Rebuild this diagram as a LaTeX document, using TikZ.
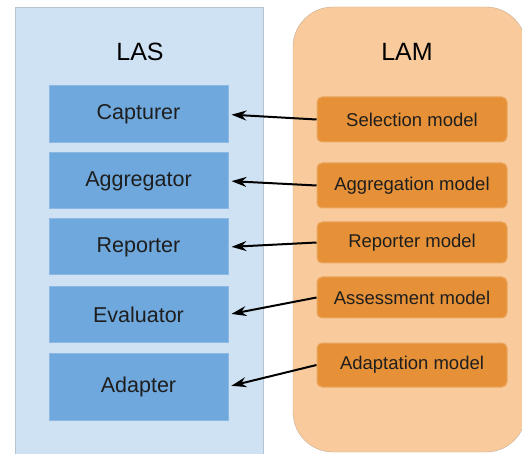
\documentclass[tikz,border=0pt]{standalone}
\usepackage{fontspec}
\setmainfont{Liberation Sans}
\usetikzlibrary{arrows.meta}
\definecolor{lasbg}{HTML}{CFE2F3}
\definecolor{lasbox}{HTML}{6FA8DC}
\definecolor{lambg}{HTML}{F9CB9C}
\definecolor{lambox}{HTML}{E69138}
\definecolor{txt}{HTML}{1E1E1E}
\tikzset{
  sysbox/.style={fill=lasbox, draw=lasbox!80!white, line width=1pt, minimum width=179pt, text=txt, font=\fontsize{21.5pt}{24pt}\selectfont},
  modbox/.style={fill=lambox, draw=lambox!80!white, line width=1pt, rounded corners=5pt, minimum width=190pt, text=txt, font=\fontsize{18.5pt}{21pt}\selectfont},
  feed/.style={-{Stealth[length=15pt,width=10pt]}, line width=2pt, shorten >=3pt},
}
\begin{document}
\begin{tikzpicture}[x=1pt, y=-1pt]
\useasboundingbox (0,0) rectangle (522,454);
%	% Panels
	\fill[white] (0,0) rectangle (522,454);
	\draw[lasbg!70!gray, fill=lasbg] (15,7) rectangle (263,460);
	\draw[lambg!60!gray, fill=lambg, rounded corners=40pt] (293,7) rectangle (526,452);
	\node[font=\fontsize{25pt}{28pt}\selectfont] (las) at (140,52) {LAS};
	\node[font=\fontsize{25pt}{28pt}\selectfont] (lam) at (407,52) {LAM};
%	% LAS components
	\node[sysbox, minimum height=57pt] (capt) at (138.5,114.5) {Capturer};
	\node[sysbox, minimum height=56pt] (aggr) at (138.5,181) {Aggregator};
	\node[sysbox, minimum height=56pt] (repo) at (138.5,247) {Reporter};
	\node[sysbox, minimum height=55pt] (eval) at (138.5,314.5) {Evaluator};
	\node[sysbox, minimum height=67pt] (adap) at (138.5,386.5) {Adapter};
%	% LAM models
	\node[modbox, minimum height=45pt] (selm) at (412,119.5) {Selection model};
	\node[modbox, minimum height=45pt] (aggm) at (412,185.5) {Aggregation model};
	\node[modbox, minimum height=41pt] (repm) at (412,242.5) {Reporter model};
	\node[modbox, minimum height=41pt] (assm) at (412,297.5) {Assessment model};
	\node[modbox, minimum height=44pt] (adam) at (412,365) {Adaptation model};
%	% Arrows
	\draw[feed] (selm.west) -- (capt.east);
	\draw[feed] (aggm.west) -- (aggr.east);
	\draw[feed] (repm.west) -- (repo.east);
	\draw[feed] (assm.west) -- (eval.east);
	\draw[feed] (adam.west) -- (adap.east);
\end{tikzpicture}
\end{document}
